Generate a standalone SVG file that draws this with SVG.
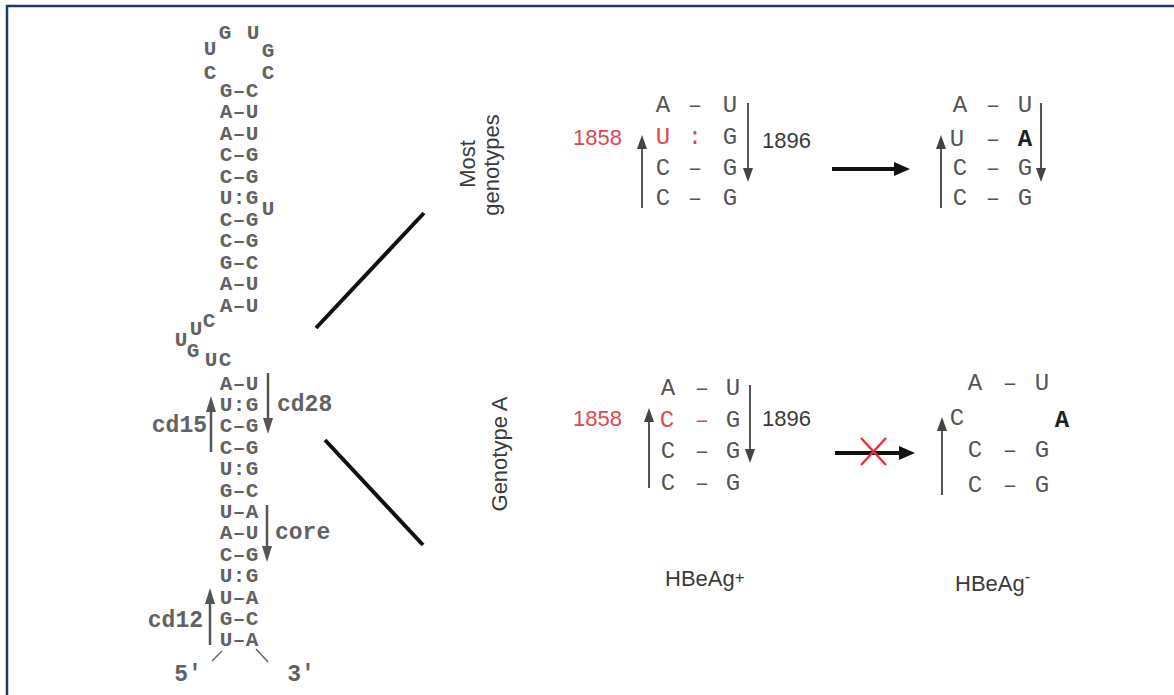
<svg xmlns="http://www.w3.org/2000/svg" width="1174" height="695" viewBox="0 0 1174 695">
<style>
.stem{font-family:"Liberation Mono",monospace;font-weight:bold;font-size:21px;fill:#626262;text-anchor:middle}
.lab{font-family:"Liberation Mono",monospace;font-weight:bold;font-size:23px;fill:#626262}
.nt{font-family:"Liberation Mono",monospace;font-size:24px;fill:#555;text-anchor:middle}
.ntb{font-family:"Liberation Mono",monospace;font-weight:bold;font-size:24px;fill:#222;text-anchor:middle}
.sans{font-family:"Liberation Sans",Arial,sans-serif;font-size:22px;fill:#3a3a3a}
.red{fill:#e0474f}
.ga{stroke:#555;stroke-width:2;fill:none}
.gal{stroke:#555;stroke-width:2.5;fill:none}
</style>
<defs>
<marker id="ag" viewBox="0 0 14 10" refX="6" refY="5" markerWidth="14" markerHeight="10" markerUnits="userSpaceOnUse" orient="auto"><path d="M0,0 L14,5 L0,10 z" fill="#444"/></marker>
<marker id="agl" viewBox="0 0 16 10" refX="6" refY="5" markerWidth="16" markerHeight="10" markerUnits="userSpaceOnUse" orient="auto"><path d="M0,0 L16,5 L0,10 z" fill="#555"/></marker>
<marker id="ab" viewBox="0 0 16 14" refX="6" refY="7" markerWidth="16" markerHeight="14" markerUnits="userSpaceOnUse" orient="auto"><path d="M0,0 L16,7 L0,14 z" fill="#111"/></marker>
</defs>
<rect x="0" y="0" width="1174" height="695" fill="#fff"/>
<g id="frame" stroke="#1d3875" stroke-width="2.5" fill="none">
<line x1="6" y1="6" x2="1174" y2="6"/>
<line x1="7" y1="5" x2="7" y2="695"/>
</g>
<g id="stem-loop">
<text class="stem" x="225" y="38.5">G</text>
<text class="stem" x="253" y="38.5">U</text>
<text class="stem" x="210" y="54.5">U</text>
<text class="stem" x="268" y="57">G</text>
<text class="stem" x="210" y="79">C</text>
<text class="stem" x="268" y="79">C</text>
<text class="stem" x="226 239 252" y="96.5">G–C</text>
<text class="stem" x="226 239 252" y="118">A–U</text>
<text class="stem" x="226 239 252" y="139.5">A–U</text>
<text class="stem" x="226 239 252" y="161">C–G</text>
<text class="stem" x="226 239 252" y="182.5">C–G</text>
<text class="stem" x="226 239 252" y="204">U:G</text>
<text class="stem" x="268" y="215">U</text>
<text class="stem" x="226 239 252" y="225.5">C–G</text>
<text class="stem" x="226 239 252" y="247">C–G</text>
<text class="stem" x="226 239 252" y="268.5">G–C</text>
<text class="stem" x="226 239 252" y="290">A–U</text>
<text class="stem" x="226 239 252" y="311.5">A–U</text>
<text class="stem" x="209" y="326.5">C</text>
<text class="stem" x="196" y="334.5">U</text>
<text class="stem" x="181" y="345.5">U</text>
<text class="stem" x="193" y="356.5">G</text>
<text class="stem" x="211" y="365.5">U</text>
<text class="stem" x="225" y="365.5">C</text>
<text class="stem" x="226 239 252" y="389.5">A–U</text>
<text class="stem" x="226 239 252" y="410.9">U:G</text>
<text class="stem" x="226 239 252" y="432.3">C–G</text>
<text class="stem" x="226 239 252" y="453.7">C–G</text>
<text class="stem" x="226 239 252" y="475.1">U:G</text>
<text class="stem" x="226 239 252" y="496.5">G–C</text>
<text class="stem" x="226 239 252" y="517.9">U–A</text>
<text class="stem" x="226 239 252" y="539.3">A–U</text>
<text class="stem" x="226 239 252" y="560.7">C–G</text>
<text class="stem" x="226 239 252" y="582.1">U:G</text>
<text class="stem" x="226 239 252" y="603.5">U–A</text>
<text class="stem" x="226 239 252" y="624.9">G–C</text>
<text class="stem" x="226 239 252" y="646.3">U–A</text>
<text class="lab" x="277" y="411">cd28</text>
<text class="lab" x="207" y="432" text-anchor="end">cd15</text>
<text class="lab" x="275" y="539">core</text>
<text class="lab" x="203" y="627" text-anchor="end">cd12</text>
<text class="lab" x="188" y="681" text-anchor="middle">5'</text>
<text class="lab" x="301" y="681" text-anchor="middle">3'</text>
</g>
<g id="labels">
<text class="sans" transform="translate(475,164) rotate(-90)" text-anchor="middle">Most</text>
<text class="sans" transform="translate(499,165) rotate(-90)" text-anchor="middle">genotypes</text>
<text class="sans" transform="translate(507,454) rotate(-90)" text-anchor="middle">Genotype A</text>
<text class="sans" x="665" y="586">HBeAg<tspan font-size="17" dy="-3">+</tspan></text>
<text class="sans" x="955" y="591">HBeAg<tspan font-size="16" dy="-9">-</tspan></text>
</g>
<g id="panel-most-before">
<text class="sans red" x="573" y="145">1858</text>
<text class="sans" x="762" y="148">1896</text>
<text class="nt" x="663" y="112">A</text><text class="nt" x="695" y="112">–</text><text class="nt" x="730" y="112">U</text>
<text class="nt red" x="663" y="144">U</text><text class="nt red" x="695" y="144">:</text><text class="nt" x="730" y="144">G</text>
<text class="nt" x="663" y="175">C</text><text class="nt" x="695" y="175">–</text><text class="nt" x="730" y="175">G</text>
<text class="nt" x="663" y="205">C</text><text class="nt" x="695" y="205">–</text><text class="nt" x="730" y="205">G</text>
</g>
<g id="panel-most-after">
<text class="nt" x="960" y="112">A</text><text class="nt" x="993" y="112">–</text><text class="nt" x="1025" y="112">U</text>
<text class="nt" x="957" y="146">U</text><text class="nt" x="993" y="146">–</text><text class="ntb" x="1025" y="146">A</text>
<text class="nt" x="960" y="175">C</text><text class="nt" x="993" y="175">–</text><text class="nt" x="1025" y="175">G</text>
<text class="nt" x="960" y="205">C</text><text class="nt" x="993" y="205">–</text><text class="nt" x="1025" y="205">G</text>
</g>
<g id="panel-a-before">
<text class="sans red" x="573" y="426">1858</text>
<text class="sans" x="762" y="426">1896</text>
<text class="nt" x="668" y="395">A</text><text class="nt" x="702" y="395">–</text><text class="nt" x="733" y="395">U</text>
<text class="nt red" x="667" y="427">C</text><text class="nt red" x="702" y="427">–</text><text class="nt" x="733" y="427">G</text>
<text class="nt" x="668" y="458">C</text><text class="nt" x="702" y="458">–</text><text class="nt" x="733" y="458">G</text>
<text class="nt" x="668" y="490">C</text><text class="nt" x="702" y="490">–</text><text class="nt" x="733" y="490">G</text>
</g>
<g id="panel-a-after">
<text class="nt" x="975" y="390">A</text><text class="nt" x="1010" y="390">–</text><text class="nt" x="1042" y="390">U</text>
<text class="nt" x="957" y="425">C</text><text class="ntb" x="1062" y="427">A</text>
<text class="nt" x="975" y="457">C</text><text class="nt" x="1010" y="457">–</text><text class="nt" x="1042" y="457">G</text>
<text class="nt" x="975" y="492">C</text><text class="nt" x="1010" y="492">–</text><text class="nt" x="1042" y="492">G</text>
</g>
<g id="connectors">
<line x1="316" y1="328" x2="424" y2="213" stroke="#111" stroke-width="4"/>
<line x1="325" y1="440" x2="423" y2="545" stroke="#111" stroke-width="4"/>
<line class="gal" x1="268" y1="373" x2="268" y2="424" marker-end="url(#agl)"/>
<line class="gal" x1="211" y1="452" x2="211" y2="406" marker-end="url(#agl)"/>
<line class="gal" x1="267" y1="505" x2="267" y2="552" marker-end="url(#agl)"/>
<line class="gal" x1="210" y1="645" x2="210" y2="598" marker-end="url(#agl)"/>
<line x1="212" y1="661" x2="222" y2="651" stroke="#666" stroke-width="1.5"/>
<line x1="256" y1="649" x2="268" y2="662" stroke="#666" stroke-width="1.5"/>
<line class="ga" x1="642" y1="208" x2="642" y2="143" marker-end="url(#ag)"/>
<line class="ga" x1="748" y1="103" x2="748" y2="174" marker-end="url(#ag)"/>
<line class="ga" x1="941" y1="208" x2="941" y2="143" marker-end="url(#ag)"/>
<line class="ga" x1="1041" y1="103" x2="1041" y2="174" marker-end="url(#ag)"/>
<line class="ga" x1="649" y1="488" x2="649" y2="416" marker-end="url(#ag)"/>
<line class="ga" x1="750" y1="385" x2="750" y2="455" marker-end="url(#ag)"/>
<line class="ga" x1="942" y1="495" x2="942" y2="425" marker-end="url(#ag)"/>
<line x1="832" y1="169" x2="900" y2="169" stroke="#111" stroke-width="4" marker-end="url(#ab)"/>
<line x1="835" y1="453" x2="905" y2="453" stroke="#111" stroke-width="4" marker-end="url(#ab)"/>
<line x1="861" y1="438" x2="886" y2="465" stroke="#e8323a" stroke-width="2.5"/>
<line x1="886" y1="438" x2="861" y2="465" stroke="#e8323a" stroke-width="2.5"/>
</g>
</svg>
